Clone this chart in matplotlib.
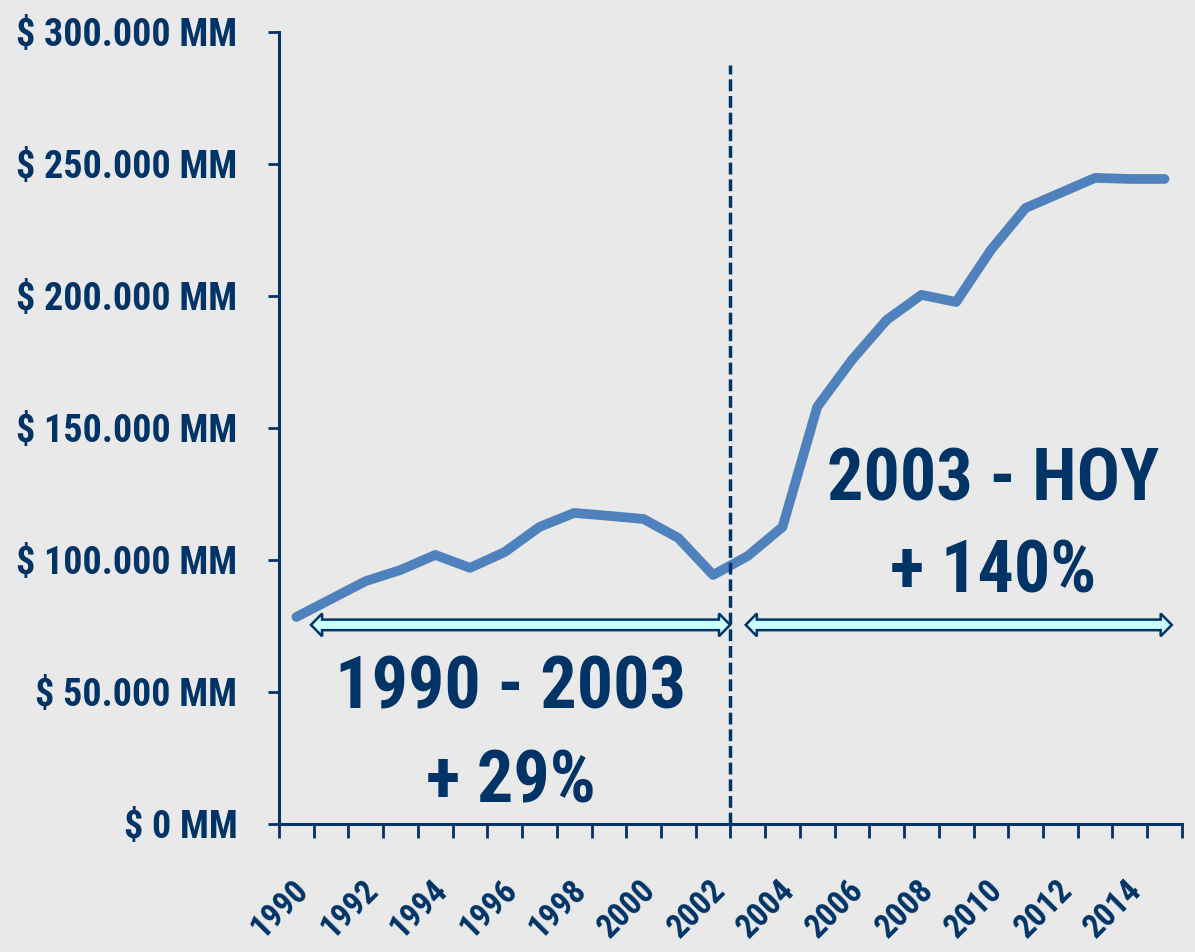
import os
import numpy as np
import matplotlib
matplotlib.use("Agg")
import matplotlib.pyplot as plt
from matplotlib import font_manager as fm
from matplotlib.font_manager import FontProperties
from matplotlib.patches import Polygon
from matplotlib.textpath import TextPath
from matplotlib.transforms import ScaledTranslation

# data (millions)
years = np.arange(1990, 2016)
values = [78400, 85200, 92000, 96200, 101900, 97000, 103000, 112500, 117800,
          116700, 115500, 108300, 94300, 101500, 112500, 158000, 175800, 190900,
          200400, 197700, 217400, 233300, 239000, 244700, 244300, 244300]
y_ticks = [0, 50000, 100000, 150000, 200000, 250000, 300000]
y_labels = ["$ 0 MM", "$ 50.000 MM", "$ 100.000 MM", "$ 150.000 MM",
            "$ 200.000 MM", "$ 250.000 MM", "$ 300.000 MM"]
label_years = years[::2]

split_year = 2002.5
span_left = (1990.42, 2002.49)
span_right = (2002.94, 2015.21)
span_y = 75400
text_left = ["1990 - 2003", "+ 29%"]
text_right = ["2003 - HOY", "+ 140%"]

NAVY = "#003366"
LINE = "#4F81BD"
BG = "#E9E9E9"


def pick_font():
    """Prefer a narrow bold face like the original, else plain bold sans."""
    prefs = ["LiberationSansNarrow-Bold", "NotoSans-CondensedBold",
             "NotoSans-ExtraCondensedBold", "RobotoCondensed-Bold",
             "DejaVuSansCondensed-Bold"]
    files = [f.fname for f in fm.fontManager.ttflist]
    for p in prefs:
        for f in files:
            if os.path.basename(f).startswith(p):
                return FontProperties(fname=f)
    return FontProperties(family="Liberation Sans", weight="bold")


BASE = pick_font()


def fit_size(text, width_px):
    """Font size (pt) that gives the text about the wanted ink width."""
    w = TextPath((0, 0), text, size=100, prop=BASE).get_extents().width
    return 72.0 * width_px / w


def fp(size):
    p = BASE.copy()
    p.set_size(size)
    return p


ylab_size = fit_size("$ 300.000 MM", 217)
xlab_size = fit_size("1990", 63)
big_size = fit_size("1990 - 2003", 342)

fig = plt.figure(figsize=(11.95, 9.52), dpi=100, facecolor=BG)
ax = fig.add_axes([0.2335, 0.1345, 0.7555, 0.832])
ax.set_facecolor(BG)

ax.plot(years, values, color=LINE, lw=7, solid_capstyle="round",
        solid_joinstyle="round", zorder=3)

ax.set_xlim(1989.5, 2015.5)
ax.set_ylim(0, 300000)

# y axis
ax.set_yticks(y_ticks)
ax.set_yticklabels(y_labels, color=NAVY, fontproperties=fp(ylab_size))
ax.tick_params(axis="y", direction="out", length=8, width=2, color=NAVY, pad=22)

# x axis: ticks at category edges, labels at centres
ax.set_xticks(label_years)
ax.set_xticklabels([str(y) for y in label_years], color=NAVY,
                   fontproperties=fp(xlab_size), rotation=45, ha="right",
                   rotation_mode="anchor")
ax.set_xticks(np.arange(1989.5, 2016.0, 1.0), minor=True)
ax.tick_params(axis="x", which="major", length=0, pad=36)
ax.tick_params(axis="x", which="minor", direction="out", length=10, width=2,
               color=NAVY)
shift = ScaledTranslation(-4 / 100, 0, fig.dpi_scale_trans)
for lab in ax.get_xticklabels():
    lab.set_transform(lab.get_transform() + shift)

for s in ["top", "right"]:
    ax.spines[s].set_visible(False)
for s in ["left", "bottom"]:
    ax.spines[s].set_color(NAVY)
    ax.spines[s].set_linewidth(2.2)

# dashed divider
ax.plot([split_year, split_year], [0, 287500], color=NAVY, lw=2.5,
        linestyle=(0, (3.4, 1.4)), zorder=4, clip_on=False)


def double_arrow(x0, x1, y):
    head_len = 0.32
    head_h = 4300
    shaft_h = 2000
    pts = [(x0, y), (x0 + head_len, y + head_h), (x0 + head_len, y + shaft_h),
           (x1 - head_len, y + shaft_h), (x1 - head_len, y + head_h), (x1, y),
           (x1 - head_len, y - head_h), (x1 - head_len, y - shaft_h),
           (x0 + head_len, y - shaft_h), (x0 + head_len, y - head_h)]
    ax.add_patch(Polygon(pts, closed=True, facecolor="#C8FFFF",
                         edgecolor=NAVY, lw=1.8, zorder=5, clip_on=False))


double_arrow(span_left[0], span_left[1], span_y)
double_arrow(span_right[0], span_right[1], span_y)

big = fp(big_size)
ax.text(1996.18, 43560, text_left[0], fontproperties=big, color=NAVY,
        ha="center", va="baseline")
ax.text(1996.18, 7950, text_left[1], fontproperties=big, color=NAVY,
        ha="center", va="baseline")
ax.text(2010.06, 122700, text_right[0], fontproperties=big, color=NAVY,
        ha="center", va="baseline")
ax.text(2010.06, 87500, text_right[1], fontproperties=big, color=NAVY,
        ha="center", va="baseline")

fig.savefig("out.png", dpi=100, facecolor=BG)
